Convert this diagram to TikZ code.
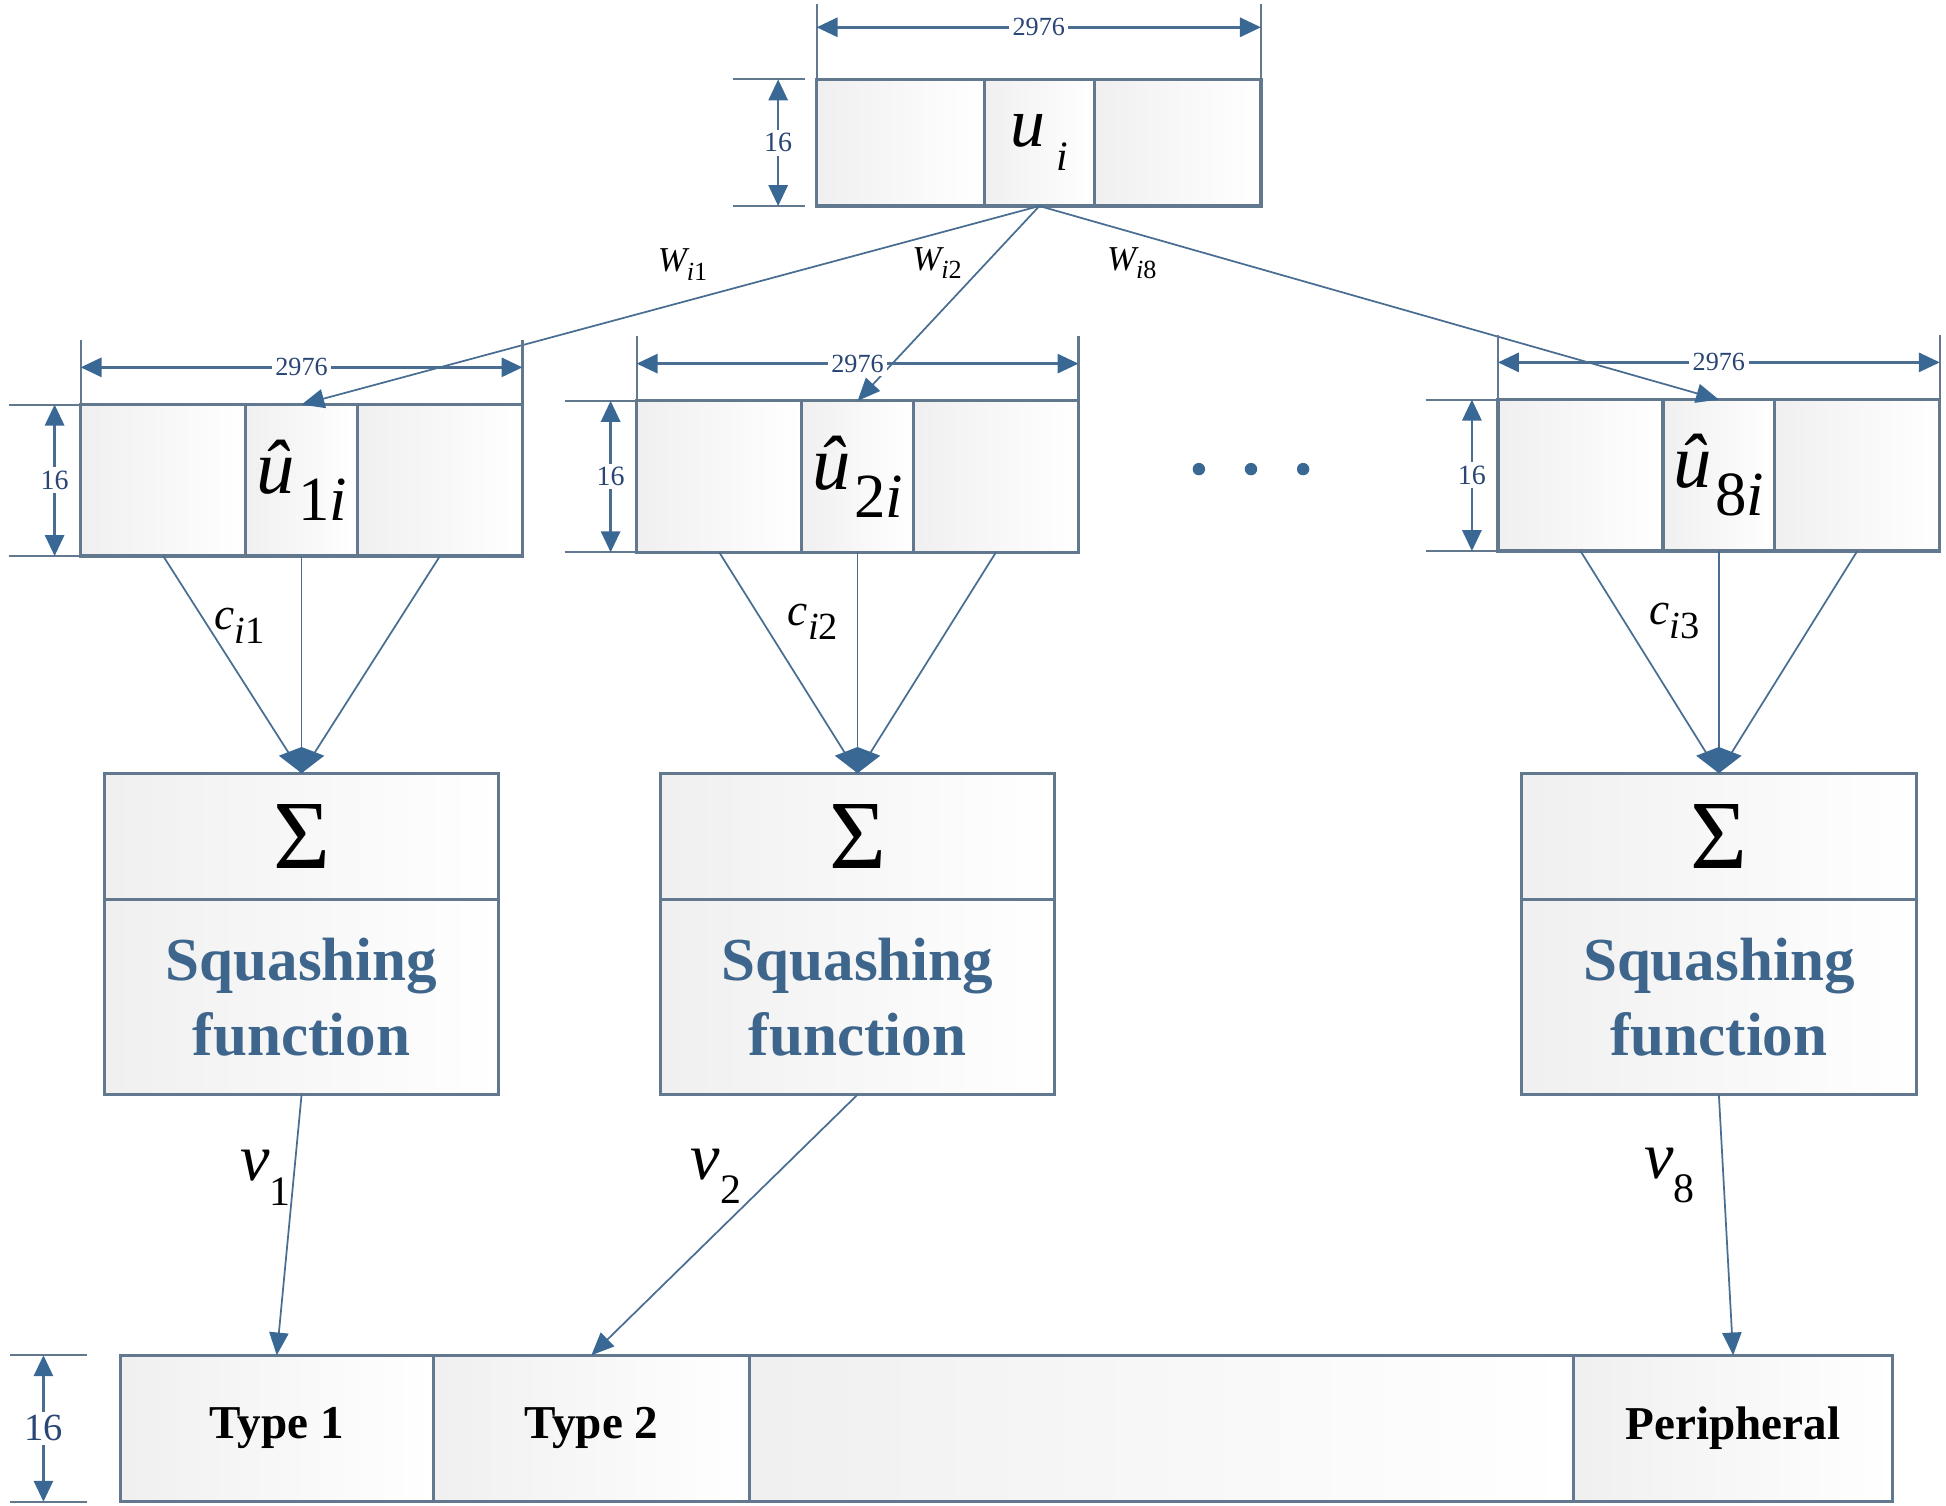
\documentclass[tikz,border=0pt]{standalone}
\usepackage{fontspec}
\setmainfont{Liberation Serif}
\usetikzlibrary{arrows.meta,positioning,calc}

\definecolor{lineblue}{RGB}{74,110,146}
\definecolor{edgeblue}{RGB}{98,120,142}
\definecolor{headblue}{RGB}{58,104,148}
\definecolor{textblue}{RGB}{62,102,140}
\definecolor{dimblue}{RGB}{42,70,116}

\def\PX{0.0125cm}
\newcommand{\fs}[1]{\fontsize{#1}{#1}\selectfont}

\tikzset{
  cell/.style={draw=edgeblue, line width=0.9pt, left color=black!6, right color=white, inner sep=0pt, outer sep=0pt, minimum height=122*\PX},
  conn/.style={draw=lineblue, line width=0.5pt},
  arr/.style={->, >={Triangle[length=6.5pt,width=5.5pt,color=headblue]}},
  extline/.style={draw=edgeblue, line width=0.6pt},
  dimline/.style={draw=lineblue, line width=0.7pt, <->, >={Triangle[length=6pt,width=5.5pt,color=headblue]}},
  dimlabel/.style={fill=white, text=dimblue, inner sep=1pt, font=\fs{7.5}},
  typelabel/.style={font=\fs{13.5}\bfseries},
  dotmark/.style={circle, fill=headblue, inner sep=0pt, minimum size=10*\PX}
}

\begin{document}
\begin{tikzpicture}[x=\PX, y=-\PX]
\useasboundingbox (0,0) rectangle (1568,1213);
% input capsule u_i
\node[cell, minimum width=135*\PX, minimum height=102*\PX, anchor=north west] (ul) at (658,64) {};
\node[cell, minimum width=89*\PX, minimum height=102*\PX, right=0pt of ul] (um) {\fs{20}\itshape u\kern3pt\raisebox{-7pt}{\fs{12}i}};
\node[cell, minimum width=134*\PX, minimum height=102*\PX, right=0pt of um] (ur) {};
\draw[extline] (ul.north west) -- ++(0,-61);
\draw[extline] (ur.north east) -- ++(0,-61);
\draw[dimline] ($(ul.north west)+(0,-42)$) -- ($(ur.north east)+(0,-42)$) node[midway, dimlabel] (dwu) {2976};
\draw[extline] ($(ul.north west)+(-67,0)$) -- ++(58,0);
\draw[extline] ($(ul.south west)+(-67,0)$) -- ++(58,0);
\draw[dimline] ($(ul.north west)+(-31,0)$) -- ($(ul.south west)+(-31,0)$) node[midway, dimlabel, font=\fs{8}] (dhu) {16};

% predictions, weighted sum and squashing
\foreach \n/\k/\L/\T/\cx in {1/1/65/326/-50, 2/2/513/323/-36, 8/3/1207/322/-36}{
  \node[cell, minimum width=133*\PX, anchor=north west] (l\n) at (\L,\T) {};
  \node[cell, minimum width=90*\PX, right=0pt of l\n] (m\n) {\fs{22}\itshape\^u\kern1pt\raisebox{-8pt}{\fs{18}\upshape\n\itshape i}};
  \node[cell, minimum width=133*\PX, right=0pt of m\n] (r\n) {};
  \node[cell, minimum width=318*\PX, minimum height=102*\PX] (s\n) at (m\n.south |- 0,674) {\fs{28}Σ};
  \node[cell, minimum width=318*\PX, minimum height=157*\PX, below=0pt of s\n, align=center, text=textblue, font=\fontsize{17.5}{21.5}\selectfont\bfseries] (f\n) {Squashing\\function};
  \draw[conn] (l\n.south) -- (s\n.north);
  \draw[conn] (r\n.south) -- (s\n.north);
  \draw[conn, -{Kite[length=7.5pt,width=13pt,inset=2.5pt,color=headblue]}] (m\n.south) -- (s\n.north);
  \node (c\n) at ($(m\n.south)+(\cx,56)$) {\fs{13}\itshape c\raisebox{-4pt}{\fs{11}i\upshape\k}};
}

% transformation matrices
\draw[conn, arr] (um.south) -- (m1.north);
\draw[conn, arr] (um.south) -- (m2.north);
\draw[conn, arr] (um.south) -- (m8.north);
\node (w1) at (550,213) {\fs{10}\itshape W\raisebox{-2.5pt}{\fs{7.5}i\upshape 1}};
\node (w2) at (755,212) {\fs{10}\itshape W\raisebox{-2.5pt}{\fs{7.5}i\upshape 2}};
\node (w8) at (912,212) {\fs{10}\itshape W\raisebox{-2.5pt}{\fs{7.5}i\upshape 8}};

\foreach \n in {1,2,8}{
  \draw[extline] (l\n.north west) -- ++(0,-52);
  \draw[extline] (r\n.north east) -- ++(0,-52);
  \draw[dimline] ($(l\n.north west)+(0,-30)$) -- ($(r\n.north east)+(0,-30)$) node[midway, dimlabel] (dw\n) {2976};
  \draw[extline] ($(l\n.north west)+(-58,0)$) -- (l\n.north west);
  \draw[extline] ($(l\n.south west)+(-58,0)$) -- (l\n.south west);
  \draw[dimline] ($(l\n.north west)+(-21,0)$) -- ($(l\n.south west)+(-21,0)$) node[midway, dimlabel, font=\fs{8}] (dh\n) {16};
}
\foreach \x [count=\i] in {966,1008,1050} \node[dotmark] (e\i) at (\x,378) {};

% output vector
\node[cell, minimum width=252*\PX, minimum height=118*\PX, anchor=north west, typelabel] (b1) at (97,1092) {Type 1};
\node[cell, minimum width=255*\PX, minimum height=118*\PX, right=0pt of b1, typelabel] (b2) {Type 2};
\node[cell, minimum width=664*\PX, minimum height=118*\PX, right=0pt of b2] (b3) {};
\node[cell, minimum width=257*\PX, minimum height=118*\PX, right=0pt of b3, typelabel] (b4) {Peripheral};
\draw[extline] ($(b1.north west)+(-89,0)$) -- ++(62,0);
\draw[extline] ($(b1.south west)+(-89,0)$) -- ++(62,0);
\draw[dimline] ($(b1.north west)+(-62,0)$) -- ($(b1.south west)+(-62,0)$) node[midway, dimlabel, font=\fs{11}] (dhb) {16};

\draw[conn, arr] (f1.south) -- (b1.north);
\draw[conn, arr] (f2.south) -- (b2.north);
\draw[conn, arr] (f8.south) -- (b4.north);
\node (v1) at (214,949) {\fs{19}\itshape v\raisebox{-7pt}{\fs{12}\upshape 1}};
\node (v2) at (577,948) {\fs{19}\itshape v\raisebox{-7pt}{\fs{12}\upshape 2}};
\node (v8) at (1345,947) {\fs{19}\itshape v\raisebox{-7pt}{\fs{12}\upshape 8}};
\end{tikzpicture}
\end{document}
